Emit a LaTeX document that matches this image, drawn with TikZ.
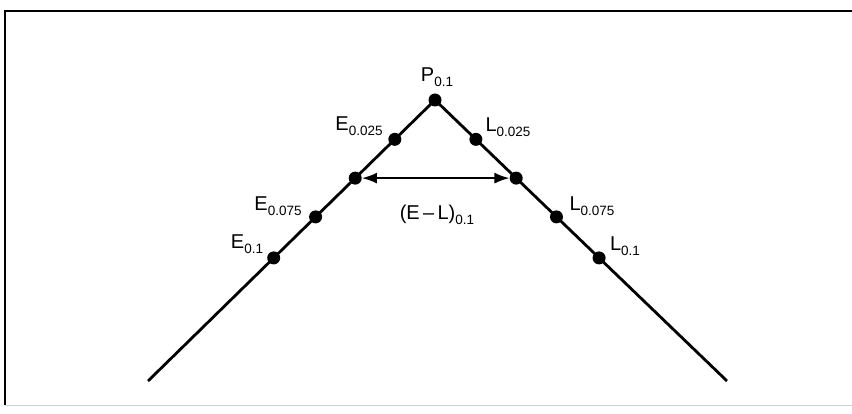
\documentclass[tikz,border=0pt]{standalone}
\usepackage{fontspec}
\setmainfont{Liberation Sans}
\usetikzlibrary{calc,arrows.meta}
\newcommand{\sublbl}[2]{#1\raisebox{-5.5pt}{\fontsize{13.5}{13.5}\selectfont #2}}
\tikzset{
  dot/.style={circle,fill=black,inner sep=0pt,minimum size=13pt},
  lbl/.style={inner sep=0pt,font=\fontsize{20}{20}\selectfont},
  lineseg/.style={line width=2.8pt},
  frameline/.style={line width=2pt},
}
\begin{document}
\begin{tikzpicture}[x=1pt,y=-1pt]
\useasboundingbox (0,0) rectangle (852,414);
\fill[white] (0,0) rectangle (852,414);
% frame
\draw[frameline] (5,405) -- (5,11) -- (852,11);
\draw[gray!35,line width=1pt] (5,405) -- (852,405);
% apex and ends
\coordinate (A) at (148,381);
\coordinate (B) at (727,381);
\node[dot] (P) at (435,100) {};
\draw[lineseg] (P.center) -- (A);
\draw[lineseg] (P.center) -- (B);
% dots on left
\node[dot] (e1) at ($(P.center)!0.14!(A)$) {};
\node[dot] (em) at ($(P.center)!0.278!(A)$) {};
\node[dot] (e2) at ($(P.center)!0.416!(A)$) {};
\node[dot] (e3) at ($(P.center)!0.562!(A)$) {};
% dots on right
\node[dot] (l1) at ($(P.center)!0.14!(B)$) {};
\node[dot] (lm) at ($(P.center)!0.278!(B)$) {};
\node[dot] (l2) at ($(P.center)!0.416!(B)$) {};
\node[dot] (l3) at ($(P.center)!0.562!(B)$) {};
% arrow
\draw[line width=2pt,{Latex[length=15pt,width=11pt]}-{Latex[length=15pt,width=11pt]}] (em) -- (lm);
% labels
\node[lbl] (tP) at (437,77) {\sublbl{P}{0.1}};
\node[lbl] (te1) at (359,126) {\sublbl{E}{0.025}};
\node[lbl] (tl1) at (508,127) {\sublbl{L}{0.025}};
\node[lbl] (te2) at (278,206) {\sublbl{E}{0.075}};
\node[lbl] (tl2) at (592,206) {\sublbl{L}{0.075}};
\node[lbl] (te3) at (247,244) {\sublbl{E}{0.1}};
\node[lbl] (tl3) at (625,246) {\sublbl{L}{0.1}};
\node[lbl] (tm) at (437,215) {\sublbl{(E\,\textendash\,L)}{0.1}};
\end{tikzpicture}
\end{document}
